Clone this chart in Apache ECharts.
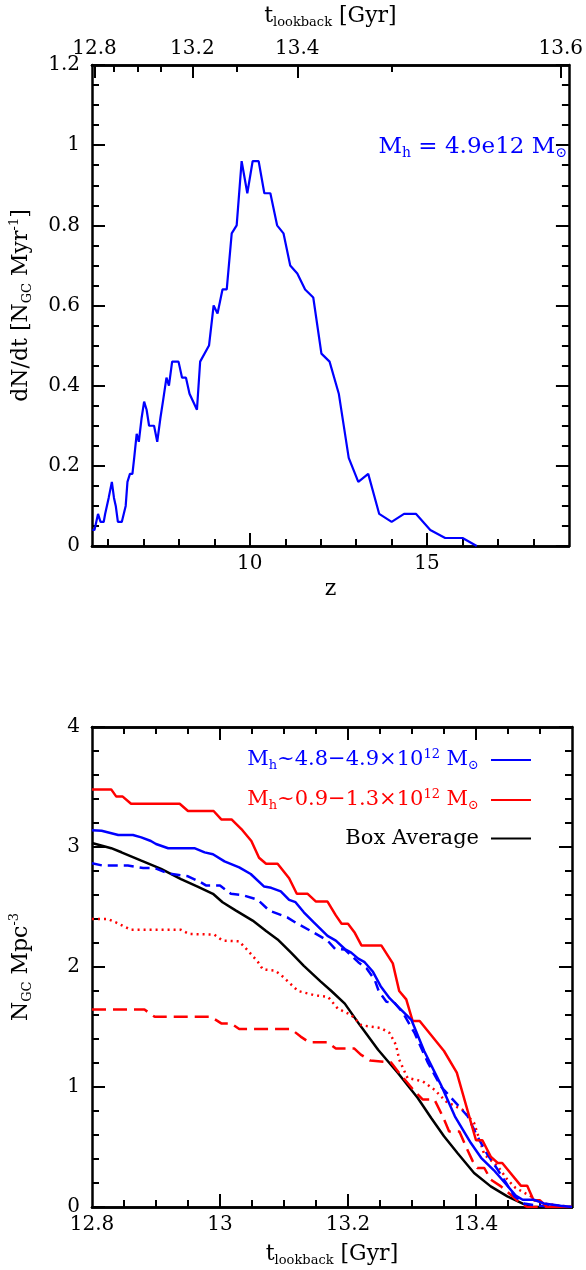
<!DOCTYPE html>
<html>
<head>
<meta charset="utf-8">
<script src="https://cdn.jsdelivr.net/npm/echarts@6/dist/echarts.min.js"></script>
<style>
  html, body { margin: 0; padding: 0; background: #fff; }
  #chart { width: 586px; height: 1270px; }
</style>
</head>
<body>
<div id="chart"></div>
<script>
  // ---- top panel: dN/dt against redshift ----
  var zVals = [5.56, 5.62, 5.72, 5.79, 5.88, 5.92, 5.97, 6.02, 6.11, 6.17, 6.22, 6.28, 6.39, 6.50, 6.55,
    6.62, 6.69, 6.74, 6.81, 6.87, 6.95, 7.02, 7.09, 7.16, 7.30, 7.39, 7.48, 7.55, 7.65, 7.72, 7.81,
    7.99, 8.09, 8.20, 8.30, 8.51, 8.60, 8.85, 8.98, 9.09, 9.23, 9.35, 9.49, 9.63, 9.77, 9.93, 10.08,
    10.25, 10.41, 10.58, 10.77, 10.95, 11.14, 11.34, 11.56, 11.79, 12.02, 12.25, 12.51, 12.79, 13.06,
    13.34, 13.65, 14.00, 14.35, 14.69, 15.09, 15.51, 16.00, 16.40];
  var dndt = [0.04, 0.04, 0.08, 0.06, 0.06, 0.08, 0.08, 0.12, 0.16, 0.12, 0.10, 0.06, 0.06, 0.10, 0.16,
    0.18, 0.18, 0.22, 0.28, 0.26, 0.32, 0.36, 0.34, 0.30, 0.30, 0.26, 0.32, 0.36, 0.42, 0.40, 0.46,
    0.46, 0.42, 0.42, 0.38, 0.34, 0.46, 0.50, 0.60, 0.58, 0.64, 0.64, 0.78, 0.80, 0.96, 0.88, 0.96,
    0.96, 0.88, 0.88, 0.80, 0.78, 0.70, 0.68, 0.64, 0.62, 0.48, 0.46, 0.38, 0.22, 0.16,
    0.18, 0.08, 0.06, 0.08, 0.08, 0.04, 0.02, 0.02, 0.00];

  var zMajor = [10, 15];
  var zMinor = [6, 7, 8, 9, 11, 12, 13, 14, 16, 17, 18];
  // lookback-time ticks on the top edge, placed at their redshift
  var tTopLabels = ['12.8', '13.2', '13.4', '13.6'];
  var tTopMajorZ = [5.62, 8.38, 11.34, 18.77];
  var tTopMinorZ = [6.15, 6.83, 7.48, 9.63, 14.01];

  // ---- bottom panel: N_GC per Mpc^3 against lookback time ----
  var blueSolid = [[12.80, 3.14], [12.815, 3.135], [12.841, 3.10], [12.864, 3.10], [12.877, 3.08], [12.892, 3.05],
    [12.90, 3.025], [12.919, 2.99], [12.96, 2.99], [12.976, 2.955], [12.989, 2.94], [13.007, 2.88], [13.03, 2.83],
    [13.048, 2.775], [13.069, 2.67], [13.08, 2.66], [13.095, 2.63], [13.108, 2.56], [13.118, 2.54], [13.131, 2.456],
    [13.147, 2.37], [13.168, 2.26], [13.181, 2.22], [13.195, 2.15], [13.205, 2.12], [13.216, 2.07], [13.226, 2.04],
    [13.239, 1.96], [13.251, 1.84], [13.265, 1.74], [13.28, 1.66], [13.299, 1.56], [13.319, 1.30], [13.345, 1.02],
    [13.367, 0.756], [13.392, 0.533], [13.408, 0.41], [13.428, 0.306], [13.447, 0.19], [13.462, 0.095],
    [13.473, 0.06], [13.49, 0.06], [13.506, 0.03], [13.532, 0.01], [13.55, 0]];
  var blueDashed = [[12.80, 2.864], [12.817, 2.845], [12.856, 2.845], [12.88, 2.825], [12.898, 2.825], [12.919, 2.78],
    [12.95, 2.756], [12.97, 2.706], [12.978, 2.68], [13.00, 2.68], [13.017, 2.61], [13.035, 2.60], [13.059, 2.56],
    [13.077, 2.47], [13.105, 2.414], [13.118, 2.37], [13.142, 2.30], [13.168, 2.22], [13.18, 2.15], [13.195, 2.145],
    [13.216, 2.04], [13.229, 1.99], [13.242, 1.89], [13.248, 1.80], [13.26, 1.71], [13.273, 1.70], [13.286, 1.617],
    [13.304, 1.45], [13.325, 1.20], [13.345, 1.005], [13.371, 0.853], [13.387, 0.756], [13.402, 0.59],
    [13.418, 0.437], [13.434, 0.31], [13.447, 0.20], [13.46, 0.09], [13.475, 0.03], [13.496, 0.01], [13.55, 0]];
  var redSolid = [[12.80, 3.48], [12.83, 3.48], [12.838, 3.42], [12.848, 3.42], [12.861, 3.36], [12.937, 3.36],
    [12.95, 3.30], [12.99, 3.30], [13.002, 3.23], [13.018, 3.23], [13.035, 3.14], [13.049, 3.05], [13.061, 2.91],
    [13.072, 2.86], [13.09, 2.86], [13.108, 2.74], [13.12, 2.61], [13.137, 2.61], [13.15, 2.545], [13.168, 2.545],
    [13.181, 2.43], [13.19, 2.36], [13.20, 2.36], [13.21, 2.29], [13.221, 2.18], [13.252, 2.18], [13.27, 2.03],
    [13.28, 1.80], [13.291, 1.73], [13.301, 1.55], [13.312, 1.55], [13.35, 1.30], [13.37, 1.12], [13.40, 0.556],
    [13.41, 0.556], [13.423, 0.42], [13.434, 0.367], [13.441, 0.367], [13.47, 0.178], [13.48, 0.178],
    [13.49, 0.056], [13.50, 0.056], [13.511, 0], [13.55, 0]];
  var redDashed = [[12.80, 1.645], [12.882, 1.645], [12.898, 1.585], [12.986, 1.585], [13.002, 1.53], [13.017, 1.53],
    [13.03, 1.483], [13.111, 1.483], [13.126, 1.42], [13.139, 1.373], [13.168, 1.373], [13.181, 1.32], [13.21, 1.32],
    [13.22, 1.27], [13.235, 1.22], [13.267, 1.206], [13.28, 1.117], [13.304, 0.964], [13.317, 0.895], [13.335, 0.895],
    [13.348, 0.756], [13.358, 0.63], [13.374, 0.63], [13.384, 0.506], [13.395, 0.38], [13.402, 0.325],
    [13.413, 0.325], [13.423, 0.228], [13.439, 0.172], [13.457, 0.089], [13.47, 0.028], [13.48, 0], [13.55, 0]];
  var redDotted = [[12.80, 2.40], [12.825, 2.40], [12.838, 2.37], [12.861, 2.31], [12.939, 2.31], [12.952, 2.275],
    [12.991, 2.27], [13.004, 2.22], [13.03, 2.214], [13.043, 2.14], [13.059, 2.045], [13.067, 1.98], [13.086, 1.97],
    [13.096, 1.93], [13.112, 1.85], [13.122, 1.80], [13.148, 1.764], [13.169, 1.75], [13.184, 1.653], [13.205, 1.60],
    [13.221, 1.514], [13.241, 1.50], [13.252, 1.49], [13.265, 1.45], [13.275, 1.35], [13.28, 1.228], [13.293, 1.075],
    [13.317, 1.047], [13.335, 0.978], [13.353, 0.88], [13.379, 0.81], [13.397, 0.70], [13.413, 0.437],
    [13.434, 0.34], [13.449, 0.228], [13.462, 0.158], [13.486, 0.089], [13.494, 0.047], [13.506, 0.028],
    [13.532, 0.01], [13.55, 0]];
  var boxAverage = [[12.80, 3.033], [12.83, 2.99], [12.846, 2.956], [12.877, 2.886], [12.908, 2.817], [12.939, 2.733],
    [12.965, 2.67], [12.989, 2.61], [13.004, 2.54], [13.025, 2.47], [13.051, 2.387], [13.072, 2.30], [13.09, 2.23],
    [13.111, 2.12], [13.131, 2.01], [13.157, 1.88], [13.174, 1.80], [13.195, 1.695], [13.218, 1.52], [13.247, 1.31],
    [13.278, 1.117], [13.309, 0.908], [13.33, 0.742], [13.35, 0.589], [13.371, 0.45], [13.397, 0.283],
    [13.423, 0.172], [13.449, 0.089], [13.473, 0.028], [13.486, 0], [13.55, 0]];

  var tLabels = [12.8, 13.0, 13.2, 13.4];
  var tMajor = [13.0, 13.2, 13.4];
  var tMinor = [12.85, 12.9, 12.95, 13.05, 13.1, 13.15, 13.25, 13.3, 13.35, 13.45, 13.5];

  var FONT = 'DejaVu Serif';
  var BLUE = '#0000ff', RED = '#ff0000', BLACK = '#000000';

  var richName = {
    m: {fontFamily: FONT, fontSize: 22, lineHeight: 26},
    s: {fontFamily: FONT, fontSize: 13, lineHeight: 13, verticalAlign: 'bottom'},
    u: {fontFamily: FONT, fontSize: 13, lineHeight: 13, verticalAlign: 'top'}
  };
  var nameStyle = {fontFamily: FONT, fontSize: 22, color: '#000', rich: richName};
  var tickLabel = {fontFamily: FONT, fontSize: 20, color: '#000'};

  // one value axis showing only a set of inside ticks (and optionally labels)
  function xAx(grid, pos, min, max, ticks, len, extra) {
    var a = {
      type: 'value', gridIndex: grid, position: pos, min: min, max: max,
      axisLine: {show: true, onZero: false, lineStyle: {color: '#000', width: 2.5}},
      axisTick: {show: true, inside: true, length: len, customValues: ticks, lineStyle: {color: '#000', width: 2}},
      axisLabel: {show: false},
      splitLine: {show: false}
    };
    for (var k in extra) a[k] = extra[k];
    return a;
  }

  function yAx(grid, pos, max, interval, split, extra) {
    var a = {
      type: 'value', gridIndex: grid, position: pos, min: 0, max: max, interval: interval,
      axisLine: {show: true, onZero: false, lineStyle: {color: '#000', width: 2.5}},
      axisTick: {show: true, inside: true, length: 13, lineStyle: {color: '#000', width: 2}},
      minorTick: {show: true, splitNumber: split, length: 7, lineStyle: {color: '#000', width: 2}},
      axisLabel: {show: false},
      splitLine: {show: false}
    };
    for (var k in extra) a[k] = extra[k];
    return a;
  }

  var tName = '{m|t}{s|lookback}{m| [Gyr]}';

  var option = {
    backgroundColor: '#fff',
    animation: false,
    grid: [
      {left: 90, right: 14, top: 65, height: 481},
      {left: 90, right: 14, top: 727, height: 480}
    ],
    xAxis: [
      xAx(0, 'bottom', 5.55, 19.0, zMajor, 13, {
        axisLabel: {show: true, customValues: zMajor, margin: 8,
          fontFamily: FONT, fontSize: 20, color: '#000'},
        name: 'z', nameLocation: 'middle', nameGap: 32, nameTextStyle: nameStyle
      }),
      xAx(0, 'bottom', 5.55, 19.0, zMinor, 7),
      xAx(0, 'top', 5.55, 19.0, tTopMajorZ, 13, {
        axisLabel: {show: true, customValues: tTopMajorZ, margin: 6,
          fontFamily: FONT, fontSize: 20, color: '#000',
          formatter: function (v) {
            for (var i = 0; i < tTopMajorZ.length; i++) {
              if (Math.abs(tTopMajorZ[i] - v) < 1e-6) return tTopLabels[i];
            }
            return '';
          }},
        name: tName, nameLocation: 'middle', nameGap: 36, nameTextStyle: nameStyle
      }),
      xAx(0, 'top', 5.55, 19.0, tTopMinorZ, 7),
      xAx(1, 'bottom', 12.8, 13.55, tMajor, 13, {
        axisLabel: {show: true, customValues: tLabels, margin: 8,
          fontFamily: FONT, fontSize: 20, color: '#000',
          formatter: function (v) { return String(+v.toFixed(2)); }},
        name: tName, nameLocation: 'middle', nameGap: 34, nameTextStyle: nameStyle
      }),
      xAx(1, 'bottom', 12.8, 13.55, tMinor, 7),
      xAx(1, 'top', 12.8, 13.55, tMajor, 13),
      xAx(1, 'top', 12.8, 13.55, tMinor, 7)
    ],
    yAxis: [
      yAx(0, 'left', 1.2, 0.2, 4, {
        axisLabel: {show: true, margin: 12, fontFamily: FONT, fontSize: 20, color: '#000'},
        name: '{m|dN/dt [N}{s|GC}{m| Myr}{u|-1}{m|]}', nameLocation: 'middle', nameGap: 58,
        nameTextStyle: nameStyle
      }),
      yAx(0, 'right', 1.2, 0.2, 4),
      yAx(1, 'left', 4, 1, 5, {
        axisLabel: {show: true, margin: 12, fontFamily: FONT, fontSize: 20, color: '#000'},
        name: '{m|N}{s|GC}{m| Mpc}{u|-3}', nameLocation: 'middle', nameGap: 58,
        nameTextStyle: nameStyle
      }),
      yAx(1, 'right', 4, 1, 5)
    ],
    legend: {
      data: [
        {name: 'mhHigh', textStyle: {color: BLUE}},
        {name: 'mhLow', textStyle: {color: RED}},
        {name: 'box', textStyle: {color: BLACK}}
      ],
      orient: 'vertical', align: 'right', right: 54, top: 748, padding: 0,
      itemWidth: 40, itemHeight: 4, itemGap: 16,
      itemStyle: {opacity: 0},
      selectedMode: false,
      formatter: function (name) {
        if (name === 'mhHigh') return '{m|M}{s|h}{m|~4.8−4.9×10}{u|12}{m| M}{s|⊙}';
        if (name === 'mhLow') return '{m|M}{s|h}{m|~0.9−1.3×10}{u|12}{m| M}{s|⊙}';
        return '{m|Box Average}';
      },
      textStyle: {
        fontFamily: FONT, fontSize: 21, padding: [0, 7, 0, 0],
        rich: {
          m: {fontFamily: FONT, fontSize: 21, lineHeight: 24},
          s: {fontFamily: FONT, fontSize: 13, lineHeight: 12, verticalAlign: 'bottom'},
          u: {fontFamily: FONT, fontSize: 13, lineHeight: 12, verticalAlign: 'top'}
        }
      }
    },
    graphic: [{
      type: 'text', right: 19, top: 136,
      style: {
        text: '{m|M}{s|h}{m| = 4.9e12 M}{s|⊙}',
        fill: BLUE,
        rich: {
          m: {fontFamily: FONT, fontSize: 23, lineHeight: 26, fill: BLUE},
          s: {fontFamily: FONT, fontSize: 14, lineHeight: 13, verticalAlign: 'bottom', fill: BLUE}
        }
      }
    }],
    series: [
      {
        type: 'line', xAxisIndex: 0, yAxisIndex: 0, showSymbol: false, symbol: 'none',
        data: zVals.map(function (z, i) { return [z, dndt[i]]; }),
        lineStyle: {color: BLUE, width: 2.2}, itemStyle: {color: BLUE}
      },
      {
        name: 'box', type: 'line', xAxisIndex: 4, yAxisIndex: 2, symbol: 'none', data: boxAverage,
        lineStyle: {color: BLACK, width: 2.5}, itemStyle: {color: BLACK}
      },
      {
        name: 'redDashed', type: 'line', xAxisIndex: 4, yAxisIndex: 2, symbol: 'none', data: redDashed,
        lineStyle: {color: RED, width: 2.5, type: [14, 7]}, itemStyle: {color: RED}
      },
      {
        name: 'redDotted', type: 'line', xAxisIndex: 4, yAxisIndex: 2, symbol: 'none', data: redDotted,
        lineStyle: {color: RED, width: 2.5, type: [2, 4]}, itemStyle: {color: RED}
      },
      {
        name: 'blueDashed', type: 'line', xAxisIndex: 4, yAxisIndex: 2, symbol: 'none', data: blueDashed,
        lineStyle: {color: BLUE, width: 2.5, type: [10, 6]}, itemStyle: {color: BLUE}
      },
      {
        name: 'mhLow', type: 'line', xAxisIndex: 4, yAxisIndex: 2, symbol: 'none', data: redSolid,
        lineStyle: {color: RED, width: 2.5}, itemStyle: {color: RED}
      },
      {
        name: 'mhHigh', type: 'line', xAxisIndex: 4, yAxisIndex: 2, symbol: 'none', data: blueSolid,
        lineStyle: {color: BLUE, width: 2.5}, itemStyle: {color: BLUE}
      }
    ]
  };

  var chart = echarts.init(document.getElementById('chart'), null, {renderer: 'canvas'});
  chart.setOption(option);
</script>
</body>
</html>
